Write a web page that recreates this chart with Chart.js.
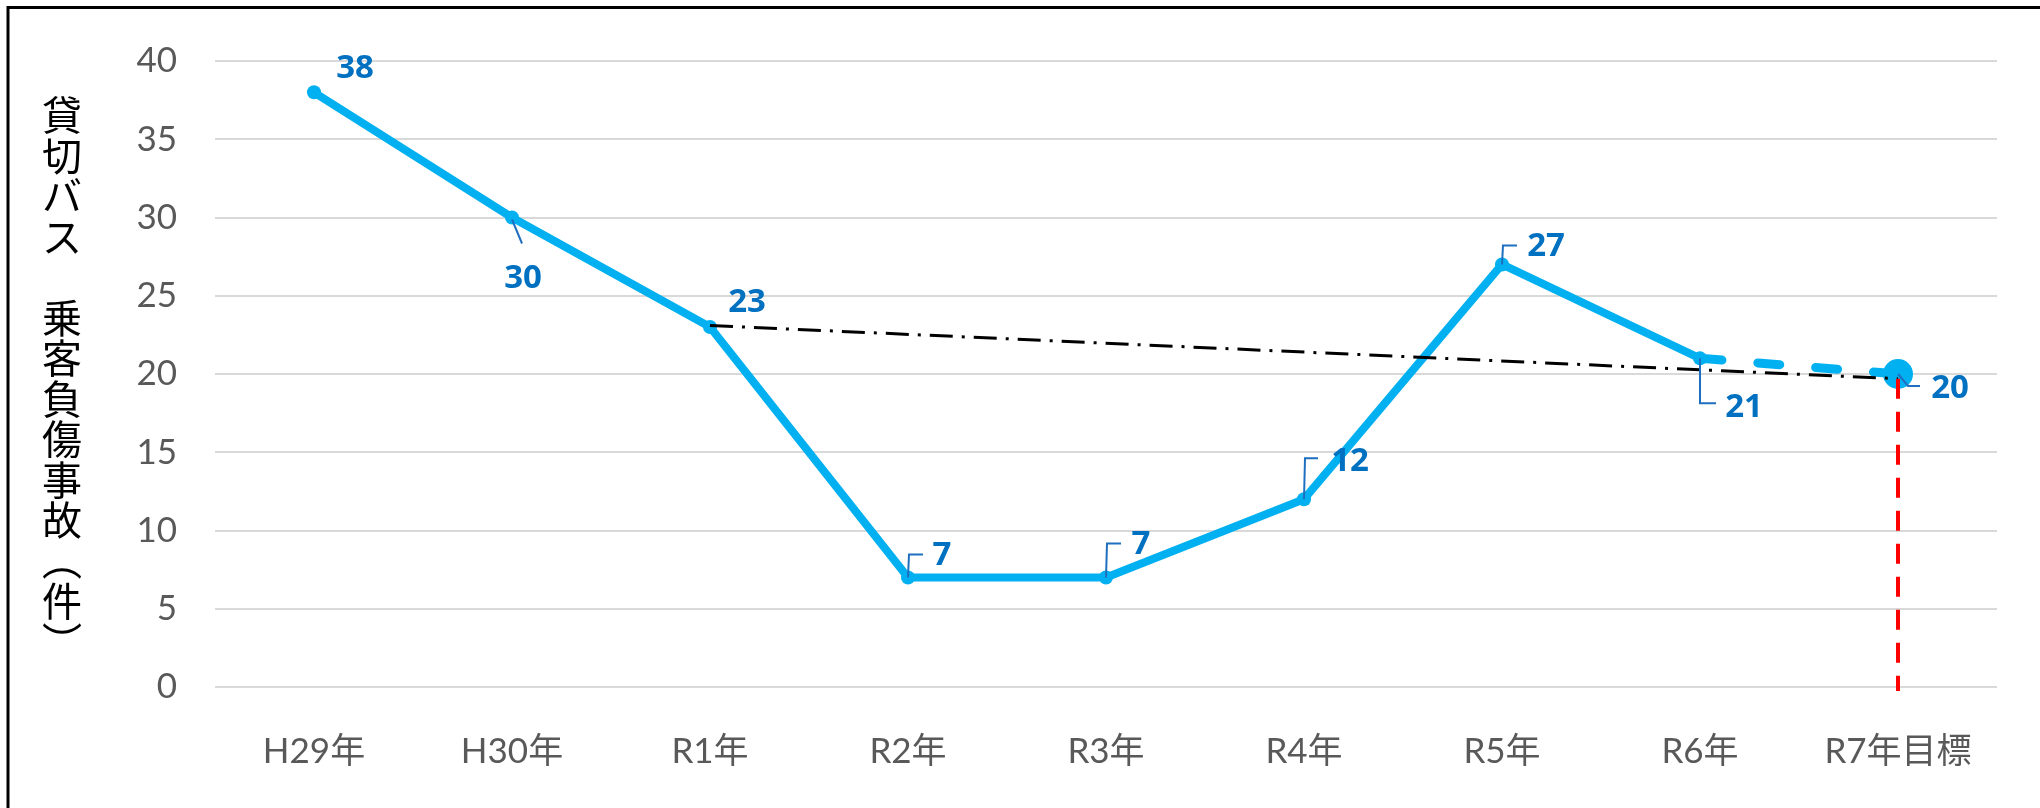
<!DOCTYPE html>
<html>
<head>
<meta charset="utf-8">
<script src="https://cdn.jsdelivr.net/npm/chart.js@4.4.1/dist/chart.umd.min.js"></script>
<style>
  body { margin: 0; background: #fff; }
  #wrap { width: 2040px; height: 808px; }
</style>
</head>
<body>
<div id="wrap"><canvas id="graphCanvasBus" width="2040" height="808"></canvas></div>
<script>
// data
var categories = ['H29年', 'H30年', 'R1年', 'R2年', 'R3年', 'R4年', 'R5年', 'R6年', 'R7年目標'];
var actualCounts = [38, 30, 23, 7, 7, 12, 27, 21, null];
var targetPath = [null, null, null, null, null, null, null, 21, 20];
var trendPath = [null, null, 23.1, null, null, null, null, null, 19.7];
var yTitle = '貸切バス　乗客負傷事故（件）';

// label placement (pixels relative to the point)
var labelOffsets = [[41, -24], [11, 61], [37, -24], [34, -22], [35, -33], [46, -38], [44, -18], [44, 49], [52, 15]];
var leaders = [
    null,
    [[0, 2], [10, 26]],
    null,
    [[0, 0], [1, -23], [15, -23]],
    [[0, 0], [1, -34], [15, -34]],
    [[0, 0], [1, -41], [14, -41]],
    [[0, 0], [1, -19], [15, -19]],
    [[0, 0], [0, 45], [16, 45]],
    [[0, 0], [10, 12], [22, 12]]
];

var blue = '#00B0F0';
var labelBlue = '#0070C0';

var decorations = {
    id: 'decorations',
    beforeDraw: function(chart) {
        var ctx = chart.ctx;
        ctx.save();
        ctx.fillStyle = '#fff';
        ctx.fillRect(0, 0, chart.width, chart.height);
        // frame (only top and left are in the picture)
        ctx.strokeStyle = '#000';
        ctx.lineWidth = 3;
        ctx.beginPath();
        ctx.moveTo(8, 808);
        ctx.lineTo(8, 7.5);
        ctx.lineTo(2040, 7.5);
        ctx.stroke();
        // vertical axis title, written top to bottom
        ctx.fillStyle = '#000';
        ctx.font = '40px "Noto Sans CJK JP"';
        ctx.textAlign = 'center';
        ctx.textBaseline = 'middle';
        var chars = Array.from(yTitle);
        for (var i = 0; i < chars.length; i++) {
            var cy = 115 + i * 40.5;
            if (chars[i] === '（' || chars[i] === '）') {
                ctx.save();
                ctx.translate(62, cy);
                ctx.rotate(Math.PI / 2);
                ctx.fillText(chars[i], 0, 0);
                ctx.restore();
            } else {
                ctx.fillText(chars[i], 62, cy);
            }
        }
        ctx.restore();
    },
    afterDatasetsDraw: function(chart) {
        var ctx = chart.ctx;
        var xs = chart.scales.x, ys = chart.scales.y;
        ctx.save();
        // red dashed drop line under the target
        var tx = xs.getPixelForValue(8);
        ctx.strokeStyle = '#FF0000';
        ctx.lineWidth = 4;
        ctx.setLineDash([20, 13]);
        ctx.beginPath();
        ctx.moveTo(tx, ys.getPixelForValue(trendPath[8]));
        ctx.lineTo(tx, ys.getPixelForValue(0) + 4);
        ctx.stroke();
        ctx.setLineDash([]);

        // data labels with leader lines
        var mainMeta = chart.getDatasetMeta(2);
        var targetMeta = chart.getDatasetMeta(1);
        ctx.font = 'bold 33px "Open Sans"';
        ctx.textAlign = 'center';
        ctx.textBaseline = 'middle';
        for (var i = 0; i < categories.length; i++) {
            var v = actualCounts[i] != null ? actualCounts[i] : targetPath[i];
            var pt = actualCounts[i] != null ? mainMeta.data[i] : targetMeta.data[i];
            if (v == null || !pt) continue;
            if (leaders[i]) {
                ctx.strokeStyle = '#1F6FC0';
                ctx.lineWidth = 2;
                ctx.beginPath();
                leaders[i].forEach(function(p, k) {
                    if (k === 0) ctx.moveTo(pt.x + p[0], pt.y + p[1]);
                    else ctx.lineTo(pt.x + p[0], pt.y + p[1]);
                });
                ctx.stroke();
            }
            ctx.fillStyle = labelBlue;
            ctx.fillText(String(v), pt.x + labelOffsets[i][0], pt.y + labelOffsets[i][1]);
        }
        ctx.restore();
    }
};

var chartdata = {
    labels: categories,
    datasets: [{
        label: 'trend',
        data: trendPath,
        borderColor: '#000',
        borderWidth: 3,
        borderDash: [23, 9, 3, 9],
        pointRadius: 0,
        spanGaps: true,
        fill: false,
        order: 0
    }, {
        label: 'target',
        data: targetPath,
        borderColor: blue,
        backgroundColor: blue,
        borderWidth: 9,
        borderDash: [22, 36],
        borderCapStyle: 'round',
        pointRadius: [0, 0, 0, 0, 0, 0, 0, 0, 15],
        pointBorderWidth: 0,
        fill: false,
        order: 1
    }, {
        label: '貸切バス乗客負傷事故',
        data: actualCounts,
        borderColor: blue,
        backgroundColor: blue,
        borderWidth: 8,
        pointRadius: 7,
        pointBorderWidth: 0,
        borderJoinStyle: 'round',
        fill: false,
        order: 2
    }]
};

var lineGraph = new Chart(document.getElementById('graphCanvasBus'), {
    type: 'line',
    data: chartdata,
    plugins: [decorations],
    options: {
        responsive: false,
        animation: false,
        layout: { padding: { left: 0, top: 61, right: 43, bottom: 0 } },
        plugins: { legend: { display: false }, tooltip: { enabled: false } },
        scales: {
            x: {
                offset: true,
                grid: { display: false, drawTicks: false },
                border: { display: false },
                ticks: { color: '#595959', font: { family: 'Lato, "Noto Sans CJK JP"', size: 35 }, padding: 44 },
                afterFit: function(scale) { scale.height = 121; }
            },
            y: {
                min: 0,
                max: 40,
                grid: { color: '#D9D9D9', lineWidth: 2, drawTicks: false },
                border: { display: false },
                ticks: { stepSize: 5, color: '#595959', font: { family: 'Lato', size: 35 }, padding: 38 },
                afterFit: function(scale) { scale.width = 215; }
            }
        }
    }
});
</script>
</body>
</html>
